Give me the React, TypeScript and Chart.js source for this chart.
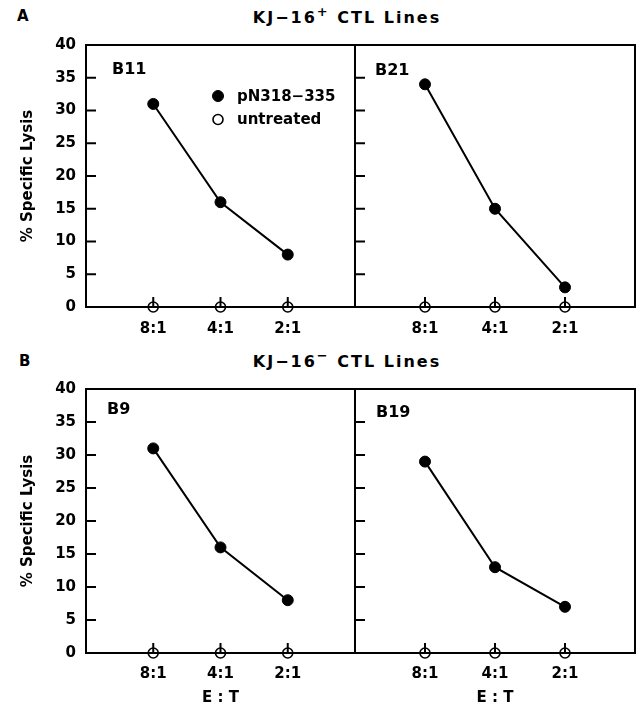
import React, { useEffect, useRef } from 'react';
import { Chart, registerables } from 'chart.js';

Chart.register(...registerables);

const ratios = ['8:1', '4:1', '2:1'];
const yTickValues = [0, 5, 10, 15, 20, 25, 30, 35, 40];
const seriesNames = ['pN318\u2212335', 'untreated'];
const b11Lysis = [31, 16, 8];
const b21Lysis = [34, 15, 3];
const b9Lysis = [31, 16, 8];
const b19Lysis = [29, 13, 7];
const untreatedLysis = [0, 0, 0];

const FAMILY = 'DejaVu Sans';
const BLACK = '#000000';

type PanelProps = {
  name: string;
  values: number[];
  left: number;
  top: number;
  width: number;
  height: number;
  padLeft: number;
  padRight: number;
  showY: boolean;
  showLegend: boolean;
  showXTitle: boolean;
  xAxisHeight: number;
  xTickPad: number;
  labelDx: number;
  labelDy: number;
};

function Panel(p: PanelProps) {
  const ref = useRef<HTMLCanvasElement | null>(null);
  useEffect(() => {
    if (!ref.current) return;
    const toPoints = (arr: number[]) => arr.map((y, i) => ({ x: i, y }));
    const decor = {
      id: 'decor',
      beforeDatasetsDraw(chart: any) {
        const { ctx, chartArea: ca, scales } = chart;
        ctx.save();
        ctx.strokeStyle = BLACK;
        ctx.lineWidth = 2;
        ctx.strokeRect(ca.left, ca.top, ca.right - ca.left, ca.bottom - ca.top);
        ctx.beginPath();
        yTickValues.forEach((v) => {
          const py = scales.y.getPixelForValue(v);
          ctx.moveTo(ca.left, py);
          ctx.lineTo(ca.left + 10, py);
        });
        ratios.forEach((_, i) => {
          const px = scales.x.getPixelForValue(i);
          ctx.moveTo(px, ca.bottom);
          ctx.lineTo(px, ca.bottom - 10);
        });
        ctx.stroke();
        ctx.restore();
      },
      afterDatasetsDraw(chart: any) {
        const { ctx, chartArea: ca } = chart;
        ctx.save();
        ctx.fillStyle = BLACK;
        ctx.font = `bold 16px "${FAMILY}"`;
        ctx.textBaseline = 'middle';
        ctx.textAlign = 'left';
        ctx.fillText(p.name, ca.left + p.labelDx, ca.top + p.labelDy);
        if (p.showLegend) {
          ctx.font = `bold 15px "${FAMILY}"`;
          chart.data.datasets.forEach((ds: any, i: number) => {
            const cx = ca.left + 132;
            const cy = ca.top + 51 + i * 23.5;
            ctx.beginPath();
            ctx.arc(cx, cy, ds.pointRadius, 0, Math.PI * 2);
            if (i === 0) {
              ctx.fillStyle = ds.pointBackgroundColor;
              ctx.fill();
            }
            ctx.lineWidth = ds.pointBorderWidth;
            ctx.strokeStyle = ds.pointBorderColor;
            ctx.stroke();
            ctx.fillStyle = BLACK;
            ctx.fillText(ds.label, cx + 19, cy + 1);
          });
        }
        ctx.restore();
      },
    };

    const tickFont = { family: FAMILY, size: 15, weight: 'bold' as const, lineHeight: 1.2 };

    const chart = new Chart(ref.current, {
      type: 'line',
      data: {
        datasets: [
          {
            label: seriesNames[0],
            data: toPoints(p.values),
            borderColor: BLACK,
            borderWidth: 2,
            pointRadius: 5.5,
            pointBackgroundColor: BLACK,
            pointBorderColor: BLACK,
            pointBorderWidth: 1,
            tension: 0,
            fill: false,
            clip: false as any,
          },
          {
            label: seriesNames[1],
            data: toPoints(untreatedLysis),
            showLine: false,
            borderColor: BLACK,
            pointRadius: 5,
            pointBackgroundColor: 'rgba(0,0,0,0)',
            pointBorderColor: BLACK,
            pointBorderWidth: 1.6,
            clip: false as any,
          },
        ],
      },
      options: {
        responsive: false,
        animation: false,
        devicePixelRatio: 1,
        events: [],
        layout: { autoPadding: false, padding: { top: 10, left: p.padLeft, right: p.padRight, bottom: 0 } },
        plugins: {
          legend: { display: false },
          tooltip: { enabled: false },
          title: { display: false },
        },
        scales: {
          x: {
            type: 'linear',
            min: -1,
            max: 3,
            afterBuildTicks: (s: any) => {
              s.ticks = ratios.map((_, i) => ({ value: i }));
            },
            afterFit: (s: any) => {
              s.height = p.xAxisHeight;
              s.paddingLeft = 0;
              s.paddingRight = 0;
            },
            grid: { display: false, drawTicks: false },
            border: { display: false },
            ticks: {
              padding: p.xTickPad,
              color: BLACK,
              font: tickFont,
              autoSkip: false,
              maxRotation: 0,
              callback: (v: any) => ratios[v as number] ?? '',
            },
            title: {
              display: p.showXTitle,
              text: 'E : T',
              color: BLACK,
              font: tickFont,
              padding: { top: 0, bottom: 4 },
            },
          },
          y: {
            type: 'linear',
            min: 0,
            max: 40,
            display: p.showY,
            afterFit: (s: any) => {
              if (p.showY) s.width = 86;
              s.paddingTop = 0;
              s.paddingBottom = 0;
            },
            grid: { display: false, drawTicks: false },
            border: { display: false },
            ticks: { stepSize: 5, padding: 10, color: BLACK, font: tickFont },
            title: {
              display: true,
              text: '% Specific Lysis',
              color: BLACK,
              font: tickFont,
              padding: { top: 19, bottom: 0 },
            },
          },
        },
      } as any,
      plugins: [decor],
    });
    return () => chart.destroy();
  }, []);
  return (
    <canvas
      ref={ref}
      width={p.width}
      height={p.height}
      style={{ position: 'absolute', left: p.left, top: p.top, width: p.width, height: p.height }}
    />
  );
}

function RowTitle({ cy, sign }: { cy: number; sign: string }) {
  return (
    <div
      style={{
        position: 'absolute',
        left: 347,
        top: cy,
        transform: 'translate(-50%, -50%)',
        whiteSpace: 'nowrap',
        fontSize: 16,
        fontWeight: 'bold',
        letterSpacing: '2px',
        lineHeight: 1,
        fontFamily: FAMILY,
        color: BLACK,
      }}
    >
      KJ{'\u2212'}16
      <span style={{ position: 'relative', top: -7, fontSize: 13, letterSpacing: '2px' }}>{sign}</span> CTL Lines
    </div>
  );
}

export default function App() {
  const rowTop = [35, 379];
  return (
    <div
      style={{
        position: 'absolute',
        left: 0,
        top: 0,
        width: 639,
        height: 711,
        background: '#fff',
        overflow: 'hidden',
        fontFamily: FAMILY,
      }}
    >
      <div style={{ position: 'absolute', left: 17, top: 9, fontSize: 15, fontWeight: 'bold', lineHeight: 1, color: BLACK }}>A</div>
      <RowTitle cy={18} sign="+" />
      <div style={{ position: 'absolute', left: 19, top: 354, fontSize: 15, fontWeight: 'bold', lineHeight: 1, color: BLACK }}>B</div>
      <RowTitle cy={362} sign={'\u2212'} />

      <Panel name="B11" values={b11Lysis} left={0} top={rowTop[0]} width={360} height={312} padLeft={0} padRight={5}
        showY showLegend showXTitle={false} xAxisHeight={40} xTickPad={13} labelDx={26} labelDy={25} />
      <Panel name="B21" values={b21Lysis} left={350} top={rowTop[0]} width={289} height={312} padLeft={5} padRight={4}
        showY={false} showLegend={false} showXTitle={false} xAxisHeight={40} xTickPad={13} labelDx={20} labelDy={26} />
      <Panel name="B9" values={b9Lysis} left={0} top={rowTop[1]} width={360} height={332} padLeft={0} padRight={5}
        showY showLegend={false} showXTitle xAxisHeight={58} xTickPad={12} labelDx={21} labelDy={21} />
      <Panel name="B19" values={b19Lysis} left={350} top={rowTop[1]} width={289} height={332} padLeft={5} padRight={4}
        showY={false} showLegend={false} showXTitle xAxisHeight={58} xTickPad={12} labelDx={21} labelDy={24} />
    </div>
  );
}
